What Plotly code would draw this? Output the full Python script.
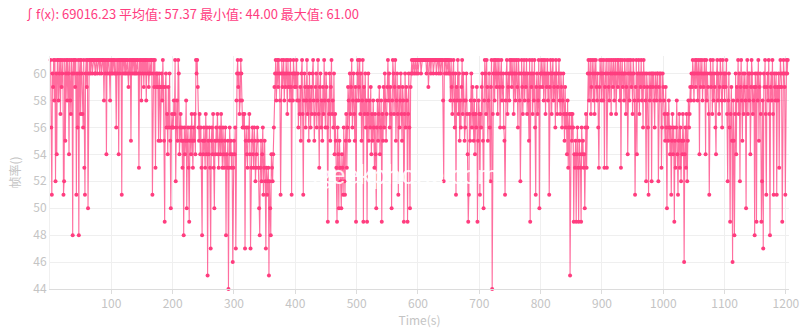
import plotly.graph_objects as go

# Frame-rate samples (fps), one per second, read block by block (50 s per block)
blocks = [
    "61 56 51 60 59 61 58 61 52 60 54 61 61 58 60 61 57 61 59 60 61 51 52 61 55 60 61 58 61 60 54 61 58 57 61 60 48 61 60 61 59 61 51 60 56 61 48 60 61 57",
    "61 60 57 56 61 53 51 60 61 59 61 50 60 61 61 60 61 61 60 61 61 61 60 60 61 61 60 61 61 61 60 61 61 60 61 61 61 58 61 60 61 54 61 60 61 61 60 58 61 60",
    "61 60 61 61 60 61 60 56 61 60 61 54 61 60 61 61 51 61 60 61 61 60 61 60 61 61 60 59 61 60 61 55 61 60 61 61 60 61 60 61 60 61 61 60 53 61 60 61 58 61",
    "60 61 59 61 60 61 58 61 60 61 59 60 61 60 61 61 51 60 61 59 61 53 60 59 60 59 55 60 59 55 59 60 58 61 59 55 49 59 60 56 57 54 59 56 60 55 50 56 57 56",
    "56 58 57 61 52 56 58 55 61 60 54 56 57 55 56 53 55 48 56 54 55 58 50 55 56 53 49 55 56 54 57 55 53 56 55 57 54 61 60 61 59 56 55 57 54 56 53 48 55 54",
    "56 55 53 57 54 56 45 55 54 56 53 47 55 56 54 57 53 50 55 54 56 55 57 54 53 55 56 54 57 55 53 56 54 53 55 56 48 54 53 55 44 53 56 54 55 53 54 46 53 55",
    "54 56 47 58 60 61 59 60 57 58 61 60 58 56 57 56 57 47 55 56 54 53 56 55 57 54 47 53 55 56 54 53 56 55 52 53 54 56 55 53 50 48 53 55 52 54 56 51 53 55",
    "52 47 53 51 52 53 45 52 50 48 54 53 52 54 56 59 60 61 58 60 61 59 61 60 58 51 60 61 59 60 61 58 60 59 61 60 57 61 59 60 58 61 59 51 60 58 61 60 59 60",
    "59 61 58 60 56 58 57 59 55 60 61 57 51 58 60 59 56 58 61 57 59 55 60 58 56 59 57 60 61 58 55 57 59 60 56 58 61 57 53 59 60 56 58 55 59 57 61 58 56 60",
    "59 56 49 58 57 60 55 59 61 57 58 56 60 54 57 55 53 49 56 54 50 55 53 52 50 54 53 51 56 52 51 55 57 53 56 59 58 55 60 57 59 61 56 58 60 57 55 59 49 58",
    "60 61 58 59 61 57 60 55 58 61 49 59 57 60 56 58 49 57 60 55 58 56 59 54 57 55 58 56 53 57 54 50 56 58 55 57 59 54 56 58 49 57 55 59 56 60 58 55 57 59",
    "61 58 60 56 59 57 50 58 61 60 57 59 61 55 58 60 57 51 59 56 58 60 57 55 59 58 49 57 60 56 59 58 49 57 60 56 50 59 60 61 60 61 61 60 61 61 60 61 61 60",
    "61 61 61 61 60 61 61 61 61 61 61 61 61 60 61 61 59 61 61 61 60 61 61 61 60 61 61 61 61 60 61 61 61 60 61 61 60 61 61 61 58 52 61 60 61 61 60 61 61 60",
    "61 60 58 61 59 57 60 61 58 56 60 51 59 58 61 57 60 55 58 56 59 61 57 60 58 55 56 58 60 57 54 49 51 57 55 58 60 56 59 57 55 58 54 57 56 59 49 55 58 57",
    "51 57 56 59 60 55 50 58 61 60 57 61 59 55 58 60 56 52 59 61 44 57 60 61 58 61 60 59 61 57 60 61 59 56 60 61 58 59 60 56 55 51 58 60 61 57 59 60 58 61",
    "60 61 59 60 61 57 60 61 58 60 61 59 56 61 60 58 52 60 61 59 57 60 61 58 60 59 61 57 60 58 55 61 49 60 59 61 57 60 58 61 56 51 59 60 57 58 61 50 59 60",
    "61 60 59 61 58 60 61 57 60 59 61 58 60 51 59 61 60 57 60 61 58 59 60 56 61 60 57 59 60 61 58 57 60 59 56 58 60 57 55 59 56 57 54 58 53 56 57 45 56 57",
    "55 57 56 49 54 53 55 49 54 56 53 49 55 54 53 49 56 54 55 53 54 50 56 57 53 56 60 61 58 60 61 57 59 61 60 58 61 57 60 61 59 58 60 56 53 59 61 60 58 61",
    "60 58 61 53 59 60 61 53 60 61 59 58 61 60 57 61 60 59 61 58 60 61 57 60 61 59 61 60 58 61 53 60 61 59 60 58 61 60 57 59 61 54 60 61 58 60 61 59 60 57",
    "61 60 58 51 59 61 54 60 58 61 57 60 59 61 58 60 56 61 59 60 58 52 60 59 56 51 60 58 59 60 52 60 59 60 58 56 60 59 58 60 60 52 59 60 58 60 53 56 60 59",
    "58 57 55 59 56 50 57 55 58 56 54 56 51 55 57 54 56 49 55 53 56 58 54 51 55 57 53 56 52 55 54 57 55 46 54 56 53 57 52 55 58 56 57 59 58 60 59 61 60 58",
    "60 61 59 61 60 58 61 60 54 61 59 60 61 58 60 59 61 60 54 61 58 60 59 57 51 60 61 59 60 57 61 58 60 59 56 54 60 61 58 60 57 59 61 60 58 56 61 59 60 58",
    "60 59 61 57 52 58 60 56 49 57 59 55 46 58 55 48 57 60 54 59 58 61 57 60 52 59 61 58 55 60 57 59 60 58 50 59 61 57 60 58 60 54 59 61 60 57 58 59 48 60",
    "59 49 60 58 61 55 59 60 57 49 52 58 47 60 59 61 57 51 59 60 58 61 57 48 59 60 58 61 57 51 60 59 58 60 51 59 58 60 53 59 61 60 59 49 60 61 60 59 51 60",
    "61 60 61",
]
fps = [int(v) for b in blocks for v in b.split()]
times = list(range(1, len(fps) + 1))

title_text = "∫f(x): 69016.23 平均值: 57.37 最小值: 44.00 最大值: 61.00"
x_title = "Time(s)"
y_title = "帧率()"
watermark = "igeekphone.com"

pink = "#ff3d7f"
grid = "#efefef"
tick_col = "#c4c4c4"

fig = go.Figure()
fig.add_trace(go.Scatter(
    x=times, y=fps, mode="lines+markers",
    line=dict(color="rgba(255,61,127,0.75)", width=1.1),
    marker=dict(color=pink, size=4),
    cliponaxis=False, hoverinfo="skip", showlegend=False,
))

fig.update_layout(
    width=800, height=336,
    margin=dict(l=50, r=11, t=56, b=47, autoexpand=False),
    paper_bgcolor="white", plot_bgcolor="white",
    font=dict(family="Noto Sans CJK SC, Noto Sans, sans-serif", color=tick_col, size=12),
    annotations=[
        dict(text=title_text, xref="paper", yref="paper", x=0, y=1,
             xshift=-29, yshift=43, xanchor="left", yanchor="middle",
             showarrow=False, font=dict(size=13, color=pink)),
        dict(text=watermark, xref="paper", yref="paper", x=0.481, y=0.495,
             xanchor="center", yanchor="middle", showarrow=False,
             font=dict(size=26, color="rgba(255,255,255,0.9)", family="Lato")),
    ],
)
fig.update_xaxes(
    range=[0, 1205], tickvals=list(range(100, 1201, 100)),
    ticklabeloverflow="allow", automargin=False,
    showgrid=True, gridcolor=grid, gridwidth=1,
    showline=True, linecolor="#dcdcdc", linewidth=1,
    ticks="outside", ticklen=4, tickcolor="#dcdcdc",
    tickfont=dict(size=12, color=tick_col), zeroline=False,
    title=dict(text=x_title, font=dict(size=12, color=tick_col), standoff=4),
)
fig.update_yaxes(
    range=[44, 61.3], tickvals=list(range(44, 61, 2)),
    automargin=False,
    showgrid=True, gridcolor=grid, gridwidth=1,
    showline=True, linecolor="#f0f0f0", linewidth=1,
    ticks="", tickfont=dict(size=12, color=tick_col), zeroline=False,
    title=dict(text=y_title, font=dict(size=12, color=tick_col), standoff=10),
)

fig.write_html("out.html")
